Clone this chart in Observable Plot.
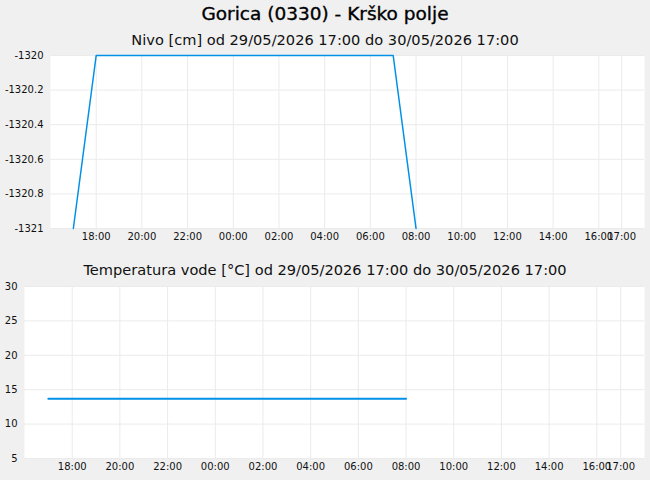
<!DOCTYPE html>
<html>
<head>
<meta charset="utf-8">
<script src="https://cdn.jsdelivr.net/npm/d3@7"></script>
<script src="https://cdn.jsdelivr.net/npm/@observablehq/plot@0.6"></script>
<style>
  html, body { margin: 0; padding: 0; background: #f0f0f0; }
  #wrap { position: relative; width: 650px; height: 480px; background: #f0f0f0; font-family: "DejaVu Sans", sans-serif; color: #111; overflow: hidden; }
  .t { position: absolute; left: 0; width: 650px; text-align: center; white-space: nowrap; }
  #title { top: 3px; font-size: 18.5px; font-weight: normal; line-height: 22px; color: #000; -webkit-text-stroke: 0.35px #000; }
  #sub1 { top: 30px; font-size: 14.6px; line-height: 20px; }
  #sub2 { top: 260px; font-size: 14.6px; line-height: 20px; }
  #c1 { position: absolute; left: 0; top: 48px; }
  #c2 { position: absolute; left: 0; top: 278px; }
</style>
</head>
<body>
<div id="wrap">
  <div class="t" id="title"></div>
  <div class="t" id="sub1"></div>
  <div id="c1"></div>
  <div class="t" id="sub2"></div>
  <div id="c2"></div>
</div>
<script>
const titleText = "Gorica (0330) - Krško polje";
const nivoTitle = "Nivo [cm] od 29/05/2026 17:00 do 30/05/2026 17:00";
const tempTitle = "Temperatura vode [°C] od 29/05/2026 17:00 do 30/05/2026 17:00";

// hourly observation times
const times = [
  "2026-05-29T17:00","2026-05-29T18:00","2026-05-29T19:00","2026-05-29T20:00",
  "2026-05-29T21:00","2026-05-29T22:00","2026-05-29T23:00","2026-05-30T00:00",
  "2026-05-30T01:00","2026-05-30T02:00","2026-05-30T03:00","2026-05-30T04:00",
  "2026-05-30T05:00","2026-05-30T06:00","2026-05-30T07:00","2026-05-30T08:00"
];
const nivoValues = [-1321, -1320, -1320, -1320, -1320, -1320, -1320, -1320,
                    -1320, -1320, -1320, -1320, -1320, -1320, -1320, -1321];
const tempValues = [13.7, 13.7, 13.7, 13.7, 13.7, 13.7, 13.7, 13.7,
                    13.7, 13.7, 13.7, 13.7, 13.7, 13.7, 13.7, 13.7];

const xDomainStr = ["2026-05-29T16:00", "2026-05-30T18:00"];
const xTickStr = [
  "2026-05-29T18:00","2026-05-29T20:00","2026-05-29T22:00","2026-05-30T00:00",
  "2026-05-30T02:00","2026-05-30T04:00","2026-05-30T06:00","2026-05-30T08:00",
  "2026-05-30T10:00","2026-05-30T12:00","2026-05-30T14:00","2026-05-30T16:00",
  "2026-05-30T17:00"
];
const xTickLabels = ["18:00","20:00","22:00","00:00","02:00","04:00","06:00","08:00",
                     "10:00","12:00","14:00","16:00","17:00"];

const nivoDomain = [-1321, -1320];
const nivoTicks = [-1321, -1320.8, -1320.6, -1320.4, -1320.2, -1320];
const nivoTickLabels = ["-1321", "-1320.8", "-1320.6", "-1320.4", "-1320.2", "-1320"];

const tempDomain = [5, 30];
const tempTicks = [5, 10, 15, 20, 25, 30];
const tempTickLabels = ["5", "10", "15", "20", "25", "30"];

const lineColor = "#0090e6";
const gridColor = "#ebebeb";

const parse = s => new Date(s + ":00Z");
const xDomain = xDomainStr.map(parse);
const xTicks = xTickStr.map(parse);
const xFmt = d => { const i = xTicks.findIndex(t => +t === +d); return i >= 0 ? xTickLabels[i] : ""; };

const nivoData = times.map((t, i) => ({t: parse(t), v: nivoValues[i]}));
const tempData = times.map((t, i) => ({t: parse(t), v: tempValues[i]}));

document.getElementById("title").textContent = titleText;
document.getElementById("sub1").textContent = nivoTitle;
document.getElementById("sub2").textContent = tempTitle;

const baseStyle = {background: "transparent", fontFamily: "DejaVu Sans, sans-serif", fontSize: "10px", color: "#111", overflow: "visible"};

function chart(data, yDomain, yTicks, yLabels, opts) {
  return Plot.plot({
    width: 650,
    height: opts.height,
    marginLeft: opts.marginLeft,
    marginRight: 6,
    marginTop: opts.marginTop,
    marginBottom: opts.marginBottom,
    style: baseStyle,
    x: {type: "utc", domain: xDomain, ticks: xTicks, tickFormat: xFmt, tickSize: 0, tickPadding: 4, label: null},
    y: {domain: yDomain, ticks: yTicks, tickFormat: d => { const i = yTicks.indexOf(d); return i >= 0 ? yLabels[i] : ""; }, tickSize: 0, tickPadding: 7, label: null},
    marks: [
      Plot.frame({fill: "white", stroke: "none"}),
      Plot.ruleX(xTicks, {stroke: gridColor, strokeWidth: 1}),
      Plot.ruleY(yTicks, {stroke: gridColor, strokeWidth: 1}),
      Plot.line(data, {x: "t", y: "v", stroke: lineColor, strokeWidth: opts.lineWidth})
    ]
  });
}

document.getElementById("c1").appendChild(
  chart(nivoData, nivoDomain, nivoTicks, nivoTickLabels, {height: 200, marginLeft: 50, marginTop: 7, marginBottom: 20, lineWidth: 1.5})
);
document.getElementById("c2").appendChild(
  chart(tempData, tempDomain, tempTicks, tempTickLabels, {height: 202, marginLeft: 24, marginTop: 8, marginBottom: 22, lineWidth: 2})
);
</script>
</body>
</html>
